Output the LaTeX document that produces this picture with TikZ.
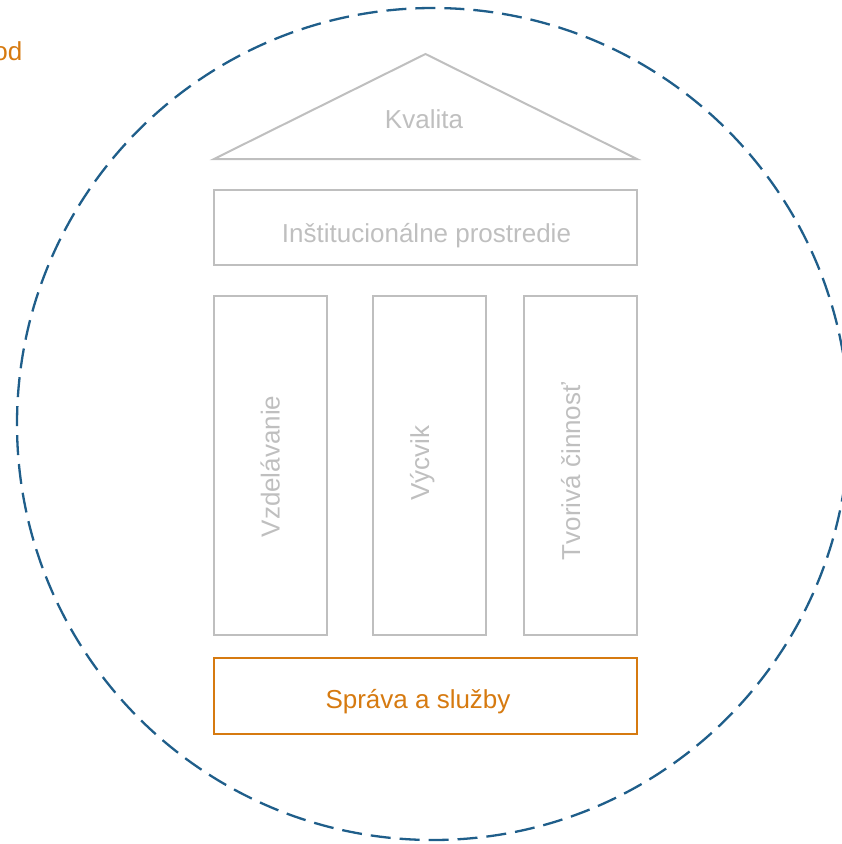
\documentclass[tikz,border=0pt]{standalone}
\usepackage{fontspec}
\setmainfont{Liberation Sans}
\definecolor{pgray}{RGB}{191,191,191}
\definecolor{porange}{RGB}{214,122,16}
\definecolor{pblue}{RGB}{31,94,138}
\begin{document}
\begin{tikzpicture}[x=1pt,y=-1pt,
  gbox/.style={draw=pgray,line width=2pt,inner sep=0pt},
  obox/.style={draw=porange,line width=2.2pt,inner sep=0pt},
  gtext/.style={text=pgray,inner sep=0pt,anchor=base,font=\fontsize{26}{30}\selectfont},
  otext/.style={text=porange,inner sep=0pt,anchor=base,font=\fontsize{26}{30}\selectfont}]
\useasboundingbox (0,0) rectangle (842,844);
\clip (0,0) rectangle (842,844);
% outer dashed circle
\draw[pblue,line width=2.3pt,dash pattern=on 20pt off 9pt] (433,424) circle[radius=416];
% cut-off label
\node[otext,anchor=base east] (od) at (22.5,60) {od};
% roof
\coordinate (apex) at (425.5,54);
\coordinate (bl) at (214,159);
\coordinate (br) at (637,159);
\draw[pgray,line width=2pt,line join=miter] (bl) -- (apex) -- (br) -- cycle;
\node[gtext] (kval) at (424,128.5) {Kvalita};
% entablature
\node[gbox,minimum width=423pt,minimum height=75pt] (inst) at (425.5,227.5) {};
\node[gtext] (instt) at (426.5,242) {Inštitucionálne prostredie};
% pillars
\node[gbox,minimum width=113pt,minimum height=339pt] (p1) at (270.5,465.5) {};
\node[gbox,minimum width=113pt,minimum height=339pt] (p2) at (429.5,465.5) {};
\node[gbox,minimum width=113pt,minimum height=339pt] (p3) at (580.5,465.5) {};
\node[gtext,rotate=90] (t1) at (279.5,466.5) {Vzdelávanie};
\node[gtext,rotate=90] (t2) at (429,463) {Výcvik};
\node[gtext,rotate=90] (t3) at (580,471.5) {Tvorivá činnosť};
% base
\node[obox,minimum width=423pt,minimum height=76pt] (base) at (425.5,696) {};
\node[otext] (baset) at (418,708) {Správa a služby};
\end{tikzpicture}
\end{document}
